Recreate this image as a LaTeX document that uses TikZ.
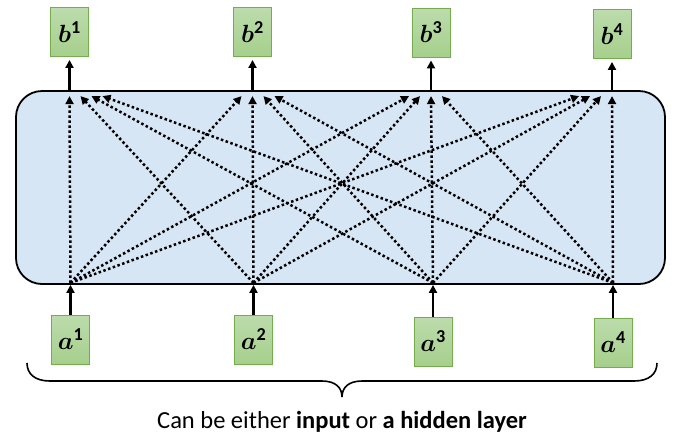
\documentclass[tikz,border=0pt]{standalone}
\usepackage{fontspec}
\usepackage{amsmath,bm}
\setmainfont{Carlito}
\usetikzlibrary{arrows.meta,calc}
\definecolor{layerfill}{HTML}{D6E6F4}
\definecolor{boxtop}{HTML}{BCDCAC}
\definecolor{boxbot}{HTML}{A6CF8C}
\definecolor{boxline}{HTML}{74AE4C}
\begin{document}
\begin{tikzpicture}[x=1pt,y=-1pt,
  vbox/.style={draw=boxline, line width=0.9pt, top color=boxtop, bottom color=boxbot,
    minimum width=38pt, minimum height=49pt, inner sep=0pt,
    font=\fontsize{26}{28}\selectfont},
  layer/.style={draw=black, line width=1.8pt, fill=layerfill, rounded corners=26pt,
    minimum width=649pt, minimum height=193pt, inner sep=0pt},
  solidarrow/.style={line width=2.2pt, -{Triangle[length=8pt,width=8pt]}},
  dotarrow/.style={line width=2.5pt, dash pattern=on 2.5pt off 2.5pt, -{Triangle[length=8pt,width=8pt]}},
  bracepath/.style={line width=1.6pt}]
\useasboundingbox (0,0) rectangle (679,440);
\node[layer] (L) at (340.5,187.5) {};
\node[vbox] (b1) at (69.5,32) {$\bm{b}^{\mathbf{1}}$};
\node[vbox] (b2) at (252.5,32) {$\bm{b}^{\mathbf{2}}$};
\node[vbox] (b3) at (431,32.5) {$\bm{b}^{\mathbf{3}}$};
\node[vbox] (b4) at (612,34) {$\bm{b}^{\mathbf{4}}$};
\node[vbox] (a1) at (70.5,339.5) {$\bm{a}^{\mathbf{1}}$};
\node[vbox] (a2) at (253.5,339.5) {$\bm{a}^{\mathbf{2}}$};
\node[vbox] (a3) at (433,341.5) {$\bm{a}^{\mathbf{3}}$};
\node[vbox] (a4) at (613,342.5) {$\bm{a}^{\mathbf{4}}$};
\foreach \j in {1,...,4}{
  \coordinate (t\j) at (b\j.south |- L.north);
  \coordinate (q\j) at ([yshift=-6pt]t\j);
  \draw[solidarrow, shorten >=3pt] (t\j) -- (b\j.south);
  \coordinate (s\j) at (a\j.north |- L.south);
  \coordinate (p\j) at ([yshift=2pt]s\j);
  \draw[solidarrow] (a\j.north) -- (s\j);
}
\foreach \i in {1,...,4}{
  \foreach \j in {1,...,4}{
    \draw[dotarrow] (p\i) -- ([xshift={(\i-\j)*11pt}]q\j);
  }
}
\coordinate (bl) at (27,363);
\coordinate (br) at (657,363);
\coordinate (bt) at (342,397);
\draw[bracepath] (bl) .. controls (27,374) and (35,381) .. (50,381)
  -- (322,381) .. controls (336,381) and (342,388) .. (bt)
  .. controls (342,388) and (348,381) .. (362,381)
  -- (634,381) .. controls (649,381) and (657,374) .. (br);
\node[font=\fontsize{24.5}{28}\selectfont, anchor=base] (cap) at (342,428)
  {Can be either \textbf{input} or \textbf{a hidden layer}};
\end{tikzpicture}
\end{document}
